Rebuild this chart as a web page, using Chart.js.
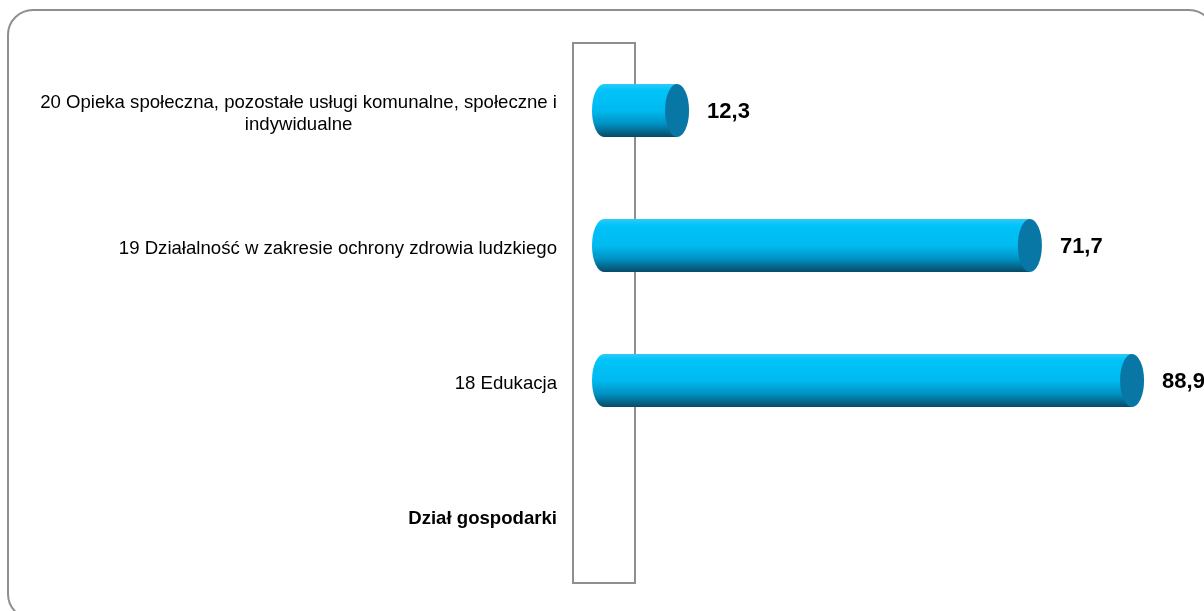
<!DOCTYPE html>
<html>
<head>
<meta charset="utf-8">
<script src="https://cdn.jsdelivr.net/npm/chart.js@4"></script>
<style>
  html, body { margin: 0; padding: 0; background: #fff; overflow: hidden; }
  #wrap { position: relative; width: 1204px; height: 611px; overflow: hidden; }
  #frame {
    position: absolute; left: 7px; top: 9px; width: 1208px; height: 611px; box-sizing: border-box;
    border: 2px solid #8f8f8f; border-radius: 26px; pointer-events: none;
  }
  canvas { position: absolute; left: 0; top: 0; }
</style>
</head>
<body>
<div id="wrap">
  <canvas id="chart" width="1204" height="611"></canvas>
  <div id="frame"></div>
</div>
<script>
const categories = [
  ['20 Opieka społeczna, pozostałe usługi komunalne, społeczne i', 'indywidualne'],
  ['19 Działalność w zakresie ochrony zdrowia ludzkiego'],
  ['18 Edukacja'],
  ['Dział gospodarki']
];
const values = [12.3, 71.7, 88.9, null];
const xMin = 0;
const xMax = 100;

const FONT = '"Liberation Sans", Arial, sans-serif';

// draws the grey "wall", the cylinders, value labels and category labels
const cylinderPlugin = {
  id: 'cylinders',
  beforeDatasetsDraw(chart) {
    const { ctx, chartArea, scales } = chart;
    const x0 = scales.x.getPixelForValue(0);
    ctx.save();
    ctx.strokeStyle = '#8e8e8e';
    ctx.lineWidth = 2;
    ctx.strokeRect(x0 - 31, chartArea.top, 62, chartArea.bottom - chartArea.top);
    ctx.restore();
  },
  afterDatasetsDraw(chart) {
    const { ctx } = chart;
    const meta = chart.getDatasetMeta(0);
    meta.data.forEach((bar, i) => {
      if (values[i] == null) return;
      const h = bar.height;
      const top = bar.y - h / 2;
      const bottom = bar.y + h / 2;
      const rx = 12;
      ctx.save();
      const g = ctx.createLinearGradient(0, top, 0, bottom);
      g.addColorStop(0, '#2ccbf6');
      g.addColorStop(0.12, '#00c3f9');
      g.addColorStop(0.5, '#00baf0');
      g.addColorStop(0.75, '#0092c4');
      g.addColorStop(1, '#074a66');
      ctx.beginPath();
      ctx.moveTo(bar.base, top);
      ctx.lineTo(bar.x, top);
      ctx.lineTo(bar.x, bottom);
      ctx.lineTo(bar.base, bottom);
      ctx.ellipse(bar.base, bar.y, rx, h / 2, 0, Math.PI / 2, Math.PI * 1.5);
      ctx.closePath();
      ctx.fillStyle = g;
      ctx.fill();
      // end cap
      ctx.beginPath();
      ctx.ellipse(bar.x, bar.y, rx, h / 2, 0, 0, Math.PI * 2);
      ctx.fillStyle = '#0877a6';
      ctx.fill();
      // value label
      ctx.fillStyle = '#000';
      ctx.font = 'bold 22px ' + FONT;
      ctx.textAlign = 'left';
      ctx.textBaseline = 'middle';
      ctx.fillText(values[i].toFixed(1).replace('.', ','), bar.x + rx + 18, bar.y + 1);
      ctx.restore();
    });

    // category labels, right aligned block, lines centred within it
    const yScale = chart.scales.y;
    const right = chart.chartArea.left - 47;
    ctx.save();
    ctx.fillStyle = '#000';
    ctx.textBaseline = 'middle';
    ctx.textAlign = 'center';
    categories.forEach((lines, i) => {
      ctx.font = (i === categories.length - 1 ? 'bold ' : '') + '18.6px ' + FONT;
      const w = Math.max(...lines.map(l => ctx.measureText(l).width));
      const cy = yScale.getPixelForValue(i);
      const lh = 22;
      const startY = cy - (lines.length - 1) * lh / 2 + 3;
      lines.forEach((l, k) => ctx.fillText(l, right - w / 2, startY + k * lh));
    });
    ctx.restore();
  }
};

new Chart(document.getElementById('chart'), {
  type: 'bar',
  data: {
    labels: categories,
    datasets: [{
      data: values,
      backgroundColor: 'rgba(0,0,0,0)',
      borderWidth: 0,
      barThickness: 53
    }]
  },
  options: {
    indexAxis: 'y',
    responsive: false,
    animation: false,
    layout: { padding: { left: 604, right: 6, top: 43, bottom: 28 } },
    plugins: { legend: { display: false }, tooltip: { enabled: false } },
    scales: {
      x: { display: false, min: xMin, max: xMax },
      y: { display: false }
    }
  },
  plugins: [cylinderPlugin]
});
</script>
</body>
</html>
